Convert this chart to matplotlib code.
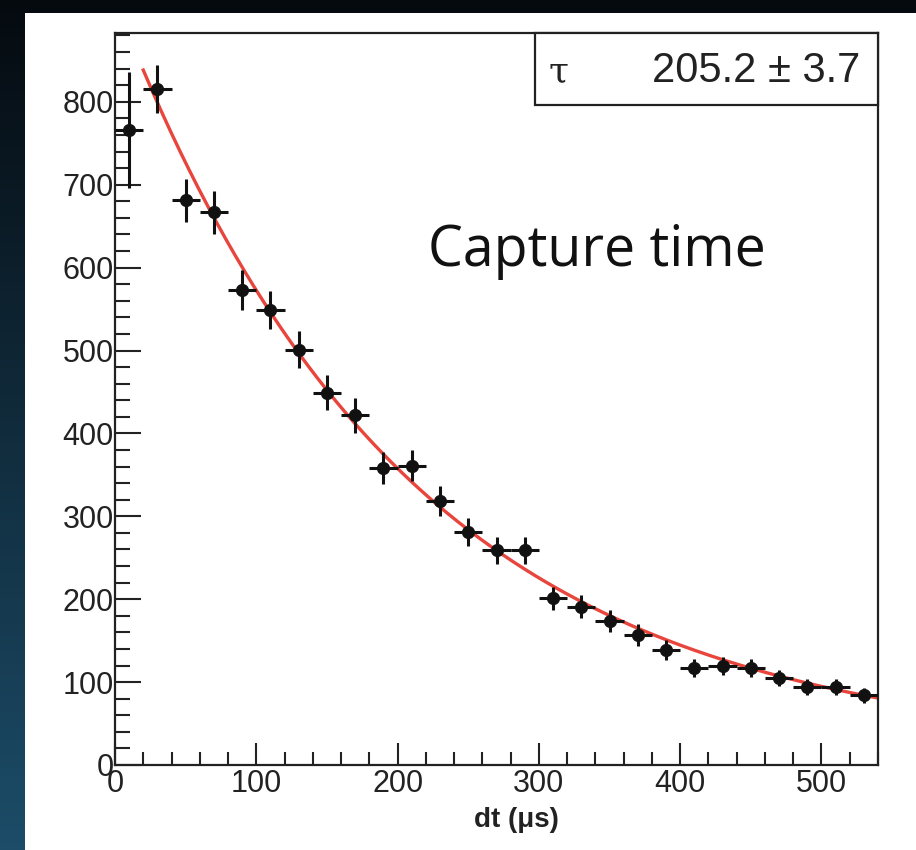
import numpy as np
import matplotlib
matplotlib.use("Agg")
import matplotlib.pyplot as plt
from matplotlib.patches import Rectangle
from matplotlib.ticker import MultipleLocator

# histogram bins (20 us wide), counts
bin_centers = [10, 30, 50, 70, 90, 110, 130, 150, 170, 190, 210, 230, 250, 270,
               290, 310, 330, 350, 370, 390, 410, 430, 450, 470, 490, 510, 530]
counts = [766, 815, 681, 667, 573, 549, 501, 449, 422, 358, 361, 318, 281, 259,
          259, 201, 191, 174, 157, 139, 117, 119, 117, 105, 94, 94, 84]
count_err = [70, 29, 26, 26, 24, 23, 22, 21, 21, 19, 19, 18, 17, 16,
             16, 14, 14, 13, 13, 12, 11, 11, 11, 10, 10, 10, 9]
bin_halfwidth = 10

# exponential fit  A*exp(-t/tau) + C
fit_A = 907.0
fit_tau = 205.2
fit_tau_err = 3.7
fit_C = 15.5
fit_range = (20, 540)

fig = plt.figure(figsize=(9.16, 8.5), dpi=100)

# dark blue slide background
bg = fig.add_axes([0, 0, 1, 1], zorder=-10)
grad = np.linspace(0, 1, 256).reshape(-1, 1)
top = np.array([0.02, 0.04, 0.06])
bottom = np.array([0.11, 0.30, 0.41])
img = top + (bottom - top) * grad[:, :, None]
bg.imshow(img, aspect="auto", extent=[0, 1, 0, 1], origin="upper")
bg.set_axis_off()

# white panel
fig.patches.append(Rectangle((25 / 916, 0), 1, 1 - 13 / 850, transform=fig.transFigure,
                             facecolor="white", edgecolor="none", zorder=-5))

ax = fig.add_axes([115 / 916, 1 - 765 / 850, 763 / 916, 732 / 850])
ax.set_facecolor("none")

t = np.linspace(fit_range[0], fit_range[1], 400)
ax.plot(t, fit_A * np.exp(-t / fit_tau) + fit_C, color="#e8453c", lw=2.4, zorder=2)

ax.errorbar(bin_centers, counts, xerr=bin_halfwidth, yerr=count_err, fmt="o",
            color="#111111", ms=8.5, elinewidth=2.2, capsize=0, zorder=3)

ax.set_xlim(0, 540)
ax.set_ylim(0, 883)
ax.xaxis.set_major_locator(MultipleLocator(100))
ax.xaxis.set_minor_locator(MultipleLocator(20))
ax.yaxis.set_major_locator(MultipleLocator(100))
ax.yaxis.set_minor_locator(MultipleLocator(20))

ax.tick_params(which="both", direction="in", top=False, right=False,
               width=1.5, colors="#222222")
ax.tick_params(axis="y", which="major", length=19, pad=1, labelsize=22)
ax.tick_params(axis="y", which="minor", length=11)
ax.tick_params(axis="x", which="major", length=16, pad=3, labelsize=22)
ax.tick_params(axis="x", which="minor", length=9.5)
for lab in ax.get_xticklabels() + ax.get_yticklabels():
    lab.set_fontfamily("Liberation Sans")
for s in ax.spines.values():
    s.set_linewidth(1.6)
    s.set_color("#222222")

fig.text(516 / 916, 1 - 820 / 850, "dt (\u03bcs)", ha="center", va="center",
         fontsize=20, fontweight="bold", family="Liberation Sans", color="#222222")

# fit parameter box
ax_box = Rectangle((535 / 916, 1 - 105 / 850), (878 - 535) / 916, 72 / 850,
                   transform=fig.transFigure, facecolor="white",
                   edgecolor="#222222", lw=1.6, zorder=5)
fig.patches.append(ax_box)
fig.text(548 / 916, 1 - 71 / 850, "\u03c4", ha="left", va="center", fontsize=26,
         family="DejaVu Serif", color="#222222", zorder=6)
fig.text(860 / 916, 1 - 71 / 850, f"{fit_tau:.1f} \u00b1 {fit_tau_err:.1f}", ha="right",
         va="center", fontsize=30, family="Liberation Sans", color="#222222", zorder=6)

fig.text(428 / 916, 1 - 266 / 850, "Capture time", ha="left", va="baseline",
         fontsize=40, family="Open Sans", color="#111111")

fig.savefig("out.png", dpi=100)
